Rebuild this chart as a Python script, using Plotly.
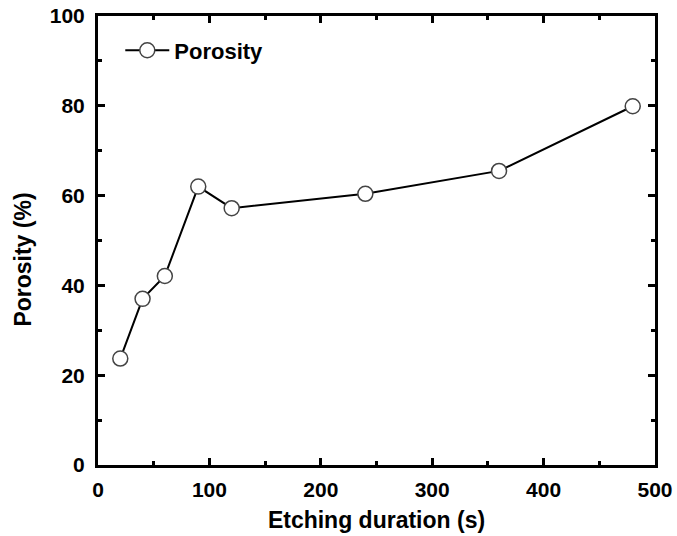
import plotly.graph_objects as go

etching_time = [20, 40, 60, 90, 120, 240, 360, 480]
porosity = [23.7, 37.0, 42.1, 62.0, 57.2, 60.4, 65.5, 79.9]
x_ticks = [0, 100, 200, 300, 400, 500]
y_ticks = [0, 20, 40, 60, 80, 100]

fig = go.Figure()
fig.add_trace(go.Scatter(
    x=etching_time, y=porosity, mode="lines+markers", name="<b>Porosity</b>",
    line=dict(color="black", width=2),
    marker=dict(symbol="circle", size=15, color="white",
                line=dict(color="#444444", width=1.5)),
))

font_family = "Liberation Sans, Arial, sans-serif"
axis_common = dict(
    showline=True, linewidth=3, linecolor="black", mirror="ticks",
    ticks="inside", ticklen=7, tickwidth=2.5, tickcolor="black",
    showgrid=False, zeroline=False, automargin=False,
    ticklabeloverflow="allow",
    tickfont=dict(family=font_family, size=21, color="black"),
)
fig.update_xaxes(
    range=[0, 500], tickvals=x_ticks, ticktext=[f"<b>{v}</b>" for v in x_ticks],
    minor=dict(ticks="inside", ticklen=4, tickwidth=2.5, tickcolor="black", dtick=50),
    ticklabelstandoff=4,
    title=dict(text="<b>Etching duration (s)</b>", font=dict(family=font_family, size=23, color="black"), standoff=12),
    **axis_common,
)
fig.update_yaxes(
    range=[0, 100], tickvals=y_ticks, ticktext=[f"<b>{v}</b>" for v in y_ticks],
    minor=dict(ticks="inside", ticklen=4, tickwidth=2.5, tickcolor="black", dtick=10),
    ticklabelstandoff=6,
    **axis_common,
)
fig.add_annotation(
    text="<b>Porosity (%)</b>", textangle=-90, showarrow=False,
    xref="paper", yref="paper", x=-0.135, y=0.457,
    xanchor="center", yanchor="middle",
    font=dict(family=font_family, size=23, color="black"),
)
fig.update_layout(
    width=677, height=536,
    margin=dict(l=98, r=22, t=16, b=71),
    plot_bgcolor="white", paper_bgcolor="white",
    showlegend=True,
    legend=dict(x=0.04, y=0.97, xanchor="left", yanchor="top",
                itemwidth=44,
                bgcolor="rgba(0,0,0,0)",
                font=dict(family=font_family, size=22, color="black")),
)
fig.write_html("out.html", config={"displayModeBar": False},
               post_script="document.body.style.margin='0px';")
